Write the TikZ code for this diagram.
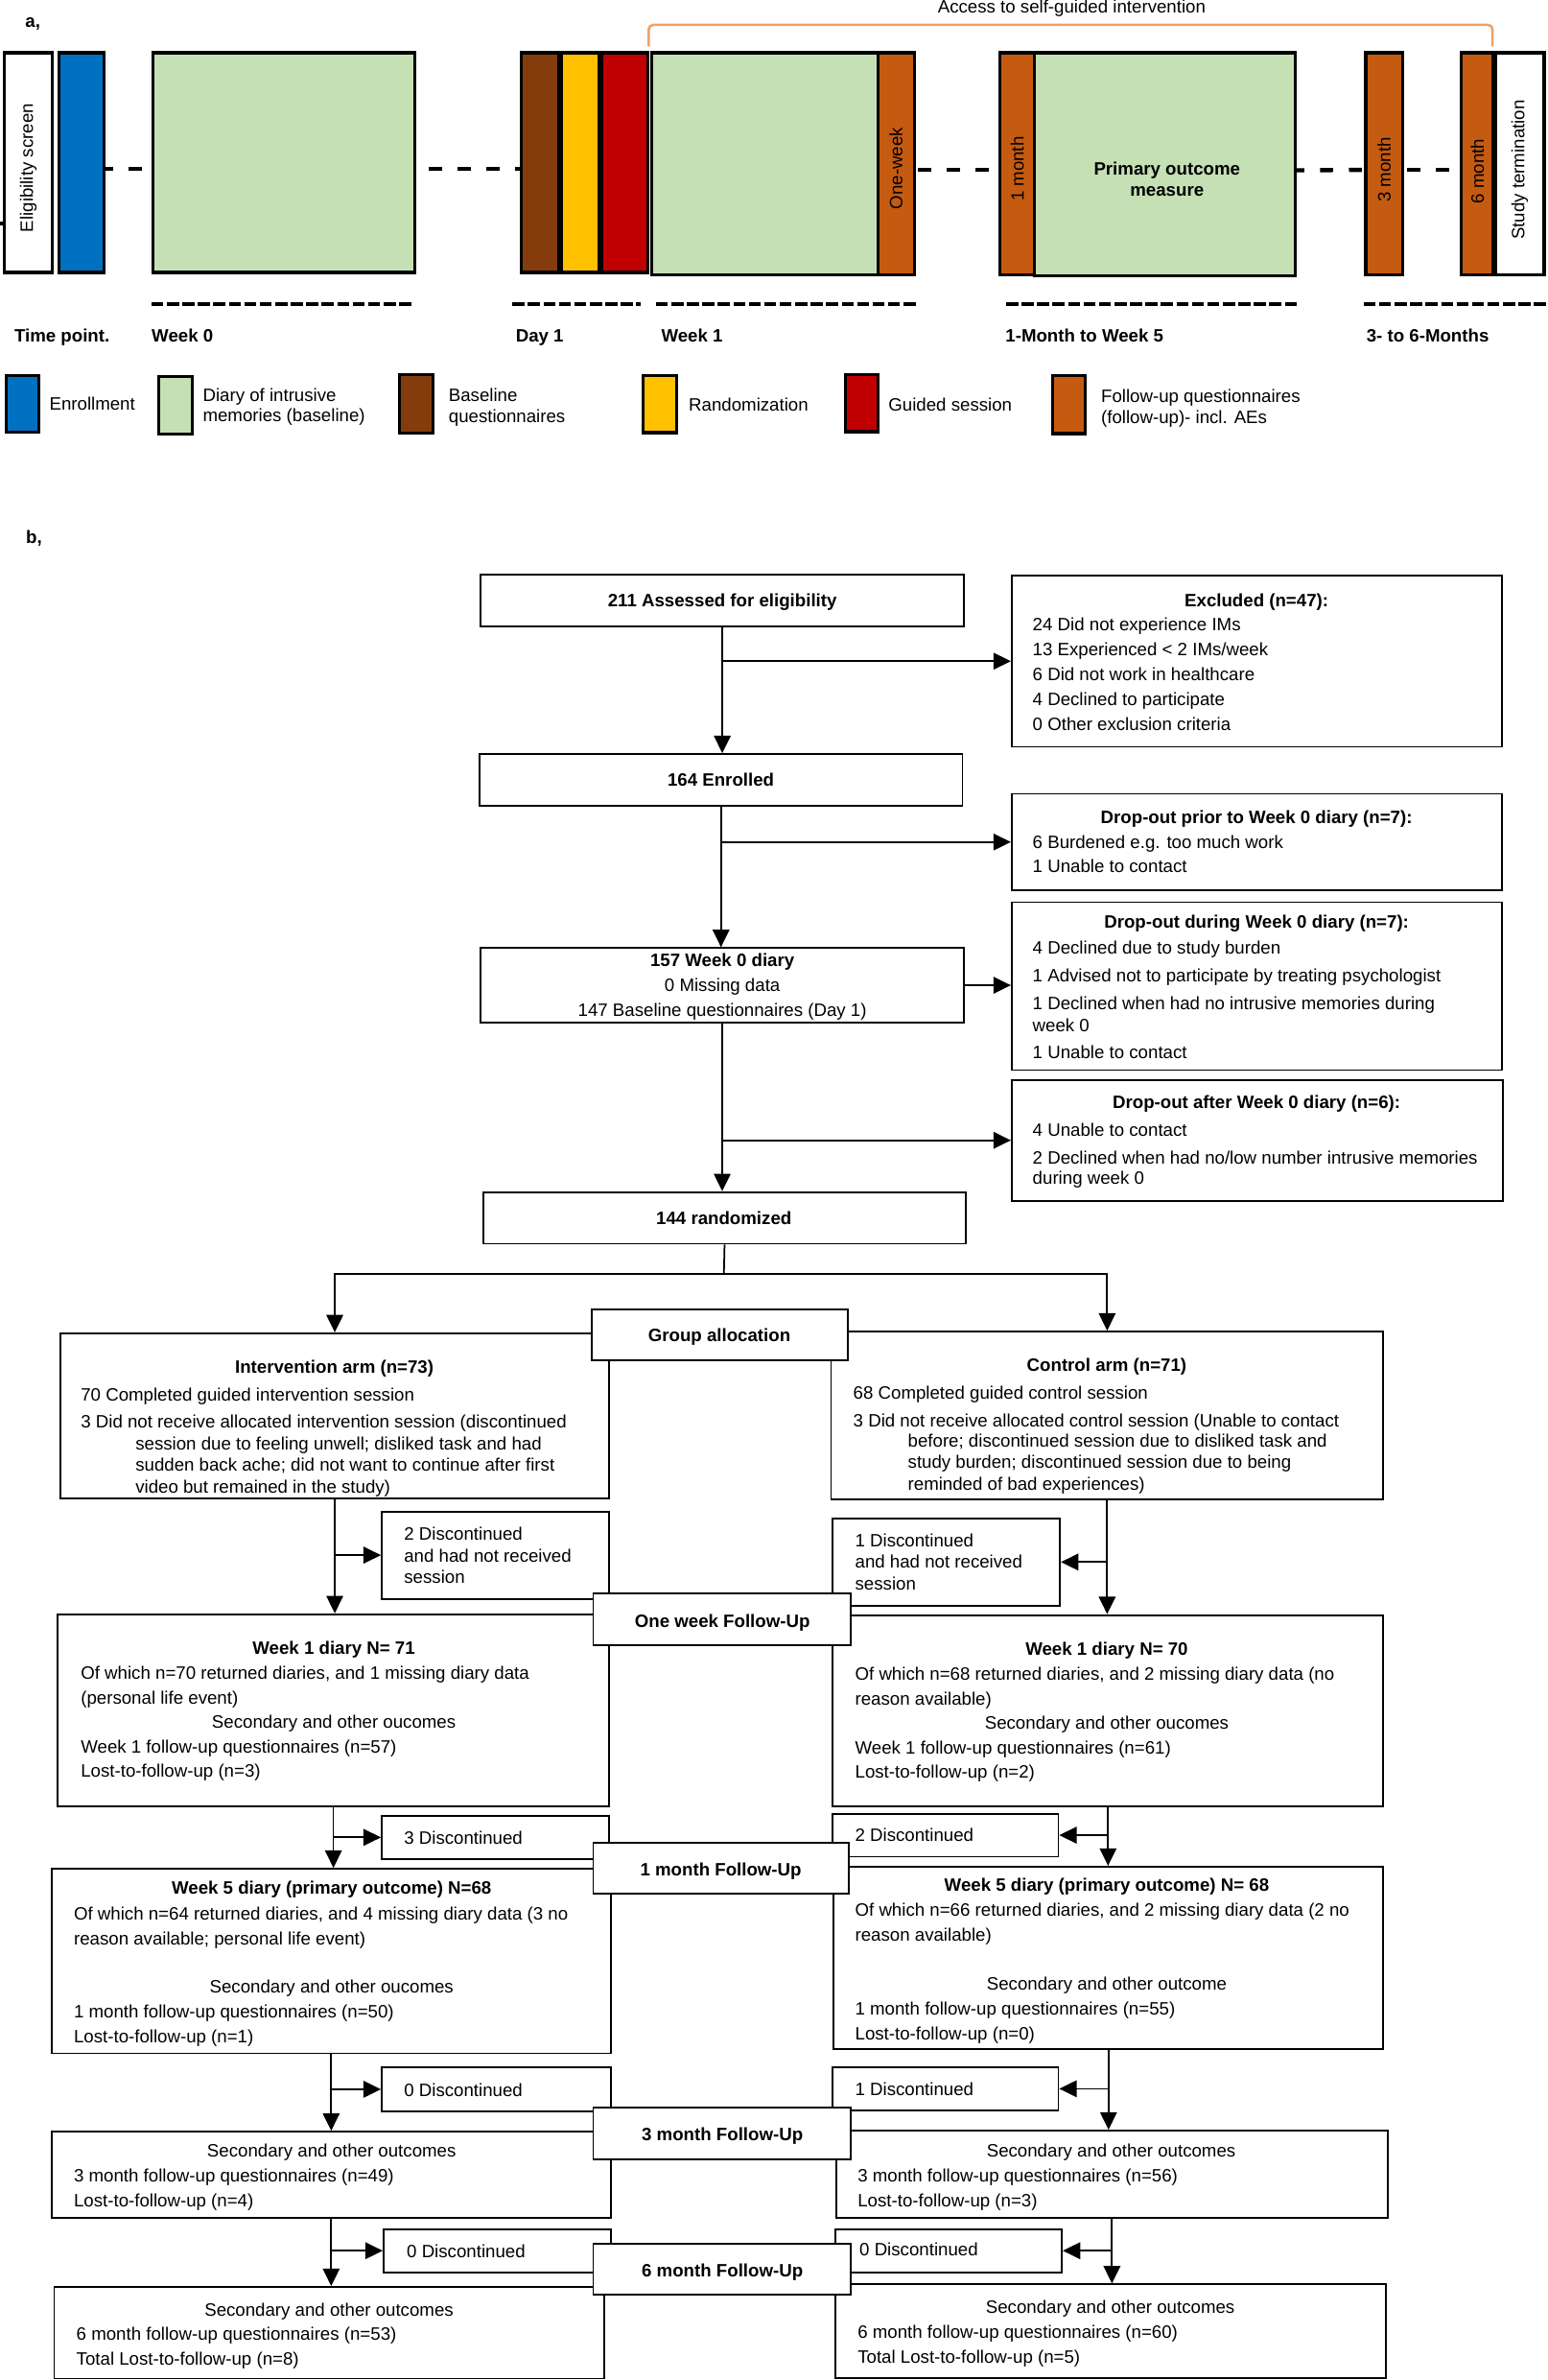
\documentclass[tikz,border=0pt]{standalone}
\usepackage{fontspec}
\setmainfont{Liberation Sans}
\usetikzlibrary{arrows.meta,fit}
\definecolor{cblue}{RGB}{0,112,192}
\definecolor{cgreen}{RGB}{197,224,180}
\definecolor{cbrown}{RGB}{132,60,12}
\definecolor{cyellow}{RGB}{255,192,0}
\definecolor{cred}{RGB}{192,0,0}
\definecolor{corange}{RGB}{197,90,17}
\definecolor{cbracket}{RGB}{240,160,100}
\newcommand\fsz{\fontsize{11.8}{14}\selectfont}
\newcommand\mybox[6][fbox]{\node[#1, fit={(#3,#4) (#5,#6)}] (#2) {};}
\newcommand\tleft[5][tx]{\node[#1, anchor=base west] (#2) at (#3,{#4+4}) {#5};}
\newcommand\tcent[5][tx]{\node[#1, anchor=base] (#2) at (#3,{#4+4}) {#5};}
\tikzset{
  abox/.style={draw, line width=2pt, inner sep=0pt},
  fbox/.style={draw, line width=1.2pt, inner sep=0pt, fill=white},
  tx/.style={inner sep=0pt, font=\fsz},
  txb/.style={inner sep=0pt, font=\fsz\bfseries},
  rot/.style={inner sep=0pt, rotate=90, font=\fontsize{11.8}{13}\selectfont},
  arr/.style={line width=1.1pt, -{Triangle[length=11.5pt,width=11pt]}},
  conn/.style={line width=1.1pt},
  tdash/.style={line width=2.8pt, dash pattern=on 8.5pt off 10.5pt},
  udash/.style={line width=2.5pt, dash pattern=on 7.9pt off 2.3pt},
}
\begin{document}
\begin{tikzpicture}[x=1pt,y=-1pt]
\fill[white] (0,0) rectangle (1020,1568);
\useasboundingbox (0,0) rectangle (1020,1568);

% ---------------- part a ----------------
\tleft[txb]{la}{16.5}{14}{a,}
\draw[cbracket, line width=1.6pt, rounded corners=3pt] (427.5,30.5) -- (427.5,16.4) -- (983.5,16.4) -- (983.5,30.5);
\tcent{acc}{706.2}{4.8}{Access to self-guided intervention}

\mybox[abox, fill=white]{elig}{2.6}{34.8}{34.7}{179.5}
\mybox[abox, fill=cblue]{enr}{39}{34.8}{68.4}{179.5}
\mybox[abox, fill=cgreen]{g0}{100.8}{34.8}{273.6}{179.5}
\mybox[abox, fill=cbrown]{bq}{343.7}{34.8}{368.5}{179.5}
\mybox[abox, fill=cyellow]{rz}{370}{34.8}{395}{179.5}
\mybox[abox, fill=cred]{gs}{396.6}{34.8}{427}{179.5}
\mybox[abox, fill=cgreen]{g1}{429.6}{34.8}{578.4}{181.2}
\mybox[abox, fill=corange]{f1}{578.4}{34.8}{602.4}{181}
\mybox[abox, fill=corange]{f2}{658.8}{34.8}{681.8}{181}
\mybox[abox, fill=cgreen]{g2}{681.8}{34.8}{853.4}{181.6}
\mybox[abox, fill=corange]{f3}{900}{34.8}{924.2}{181}
\mybox[abox, fill=corange]{f4}{963}{34.8}{984}{181}
\mybox[abox, fill=white]{st}{985.3}{34.8}{1017.5}{181}

\node[rot] (elig-t) at ([yshift=-3.5pt]elig.center) {Eligibility screen};
\node[rot] (f1-t) at ([yshift=-3pt]f1.center) {One-week};
\node[rot] (f2-t) at ([yshift=-3.5pt]f2.center) {1 month};
\node[rot] (f3-t) at ([yshift=-4pt]f3.center) {3 month};
\node[rot] (f4-t) at ([yshift=-5pt]f4.center) {6 month};
\node[rot] (st-t) at ([yshift=-4pt]st.center) {Study termination};
\node[txb, align=center] (po) at (769,118) {Primary outcome\\measure};

\draw[line width=2pt] (0,147.3) -- (2.6,147.3);
\draw[tdash, dash phase=3.5pt] ([yshift=-4pt]enr.east) -- ([yshift=-4pt]g0.west);
\draw[tdash, dash phase=11pt] ([yshift=-4pt]g0.east) -- ([yshift=-4pt]bq.west);
\draw[tdash, dash phase=17.4pt] ([yshift=-4pt]f1.east) -- ([yshift=-4pt]f2.west);
\draw[tdash, dash phase=3.5pt] ([yshift=-4pt]g2.east) -- ([yshift=-4pt]f3.west);
\draw[tdash, dash phase=17pt] ([yshift=-4pt]f3.east) -- ([yshift=-4pt]f4.west);

\draw[udash] (99.8,200.6) -- (271.6,200.6);
\draw[udash] (337.7,200.6) -- (422.3,200.6);
\draw[udash] (432.2,200.6) -- (604,200.6);
\draw[udash] (663,200.6) -- (856,200.6);
\draw[udash] (898.6,200.6) -- (1020,200.6);

\tleft[txb]{tp0}{9.3}{221}{Time point.}
\tleft[txb]{tp1}{99.8}{221}{Week 0}
\tleft[txb]{tp2}{339.7}{221}{Day 1}
\tleft[txb]{tp3}{435.6}{221}{Week 1}
\tleft[txb]{tp4}{662.4}{221}{1-Month to Week 5}
\tleft[txb]{tp5}{900.3}{221}{3- to 6-Months}

\mybox[abox, fill=cblue]{lb1}{4}{247.5}{25.8}{284.8}
\tleft{lt1}{32.4}{265.9}{Enrollment}
\mybox[abox, fill=cgreen]{lb2}{104.4}{248}{126.9}{286}
\tleft{lt2a}{133.5}{260.2}{Diary of intrusive}
\tleft{lt2b}{133.5}{273.9}{memories (baseline)}
\mybox[abox, fill=cbrown]{lb3}{263.4}{247}{285.2}{285.5}
\tleft{lt3a}{295.5}{260.8}{Baseline}
\tleft{lt3b}{295.5}{274.5}{questionnaires}
\mybox[abox, fill=cyellow]{lb4}{424}{247.5}{446}{285}
\tleft{lt4}{453.7}{266.5}{Randomization}
\mybox[abox, fill=cred]{lb5}{557}{247}{578.4}{284.4}
\tleft{lt5}{585.3}{266.5}{Guided session}
\mybox[abox, fill=corange]{lb6}{693.6}{247.5}{715}{285.7}
\tleft{lt6a}{725.4}{261.2}{Follow-up questionnaires}
\tleft{lt6b}{725.4}{274.9}{(follow-up)- incl. AEs}

% ---------------- part b ----------------
\tleft[txb]{lb}{17}{354}{b,}

\mybox{assess}{316.8}{378.5}{635.1}{412.5}
\tcent[txb]{assess-t}{476}{395.5}{211 Assessed for eligibility}
\mybox{excl}{666.7}{379.2}{989.5}{492}
\tcent[txb]{ex0}{828}{395.6}{Excluded (n=47):}
\tleft{ex1}{680.3}{411.6}{24 Did not experience IMs}
\tleft{ex2}{680.3}{428}{13 Experienced < 2 IMs/week}
\tleft{ex3}{680.3}{444.4}{6 Did not work in healthcare}
\tleft{ex4}{680.3}{460.7}{4 Declined to participate}
\tleft{ex5}{680.3}{477}{0 Other exclusion criteria}

\mybox{enrol}{316}{496.8}{634.2}{531}
\tcent[txb]{enrol-t}{475}{514}{164 Enrolled}
\mybox{prior}{666.7}{523}{989.5}{586.5}
\tcent[txb]{pr0}{828}{538.6}{Drop-out prior to Week 0 diary (n=7):}
\tleft{pr1}{680.3}{554.7}{6 Burdened e.g. too much work}
\tleft{pr2}{680.3}{571}{1 Unable to contact}

\mybox{wzero}{316.8}{624.6}{635}{673.6}
\tcent[txb]{wz1}{476}{633}{157 Week 0 diary}
\tcent{wz2}{476}{649.4}{0 Missing data}
\tcent{wz3}{476}{665.5}{147 Baseline questionnaires (Day 1)}
\mybox{during}{666.7}{594.4}{989.5}{705}
\tcent[txb]{du0}{828}{607.7}{Drop-out during Week 0 diary (n=7):}
\tleft{du1}{680.3}{624.6}{4 Declined due to study burden}
\tleft{du2}{680.3}{643}{1 Advised not to participate by treating psychologist}
\tleft{du3}{680.3}{661.3}{1 Declined when had no intrusive memories during}
\tleft{du4}{680.3}{675.4}{week 0}
\tleft{du5}{680.3}{693.7}{1 Unable to contact}

\mybox{after}{666.7}{711.5}{990.5}{791}
\tcent[txb]{af0}{828}{726.2}{Drop-out after Week 0 diary (n=6):}
\tleft{af1}{680.3}{744.5}{4 Unable to contact}
\tleft{af2}{680.3}{762.8}{2 Declined when had no/low number intrusive memories}
\tleft{af3}{680.3}{776}{during week 0}

\mybox{rand}{318.4}{785.4}{636.5}{819.4}
\tcent[txb]{rand-t}{477}{803}{144 randomized}

\draw[arr] (assess.south) -- (assess.south |- enrol.north);
\draw[arr] (assess.south |- excl.west) -- (excl.west);
\draw[arr] (enrol.south) -- (enrol.south |- wzero.north);
\draw[arr] (enrol.south |- prior.west) -- (prior.west);
\draw[arr] (wzero.east) -- (wzero.east -| during.west);
\draw[arr] (wzero.south) -- (wzero.south |- rand.north);
\draw[arr] (wzero.south |- after.west) -- (after.west);

% arms
\mybox{intv}{39.8}{878.4}{401.4}{987.2}
\tcent[txb]{in0}{220.3}{901}{Intervention arm (n=73)}
\tleft{in1}{53.1}{919}{70 Completed guided intervention session}
\tleft{in2}{53.1}{937}{3 Did not receive allocated intervention session (discontinued}
\tleft{in3}{89.1}{951.1}{session due to feeling unwell; disliked task and had}
\tleft{in4}{89.1}{965.3}{sudden back ache; did not want to continue after first}
\tleft{in5}{89.1}{980}{video but remained in the study)}

\mybox{ctrl}{547.6}{877.3}{911.5}{987.9}
\tcent[txb]{co0}{729.3}{899.2}{Control arm (n=71)}
\tleft{co1}{562.1}{917.5}{68 Completed guided control session}
\tleft{co2}{562.1}{936}{3 Did not receive allocated control session (Unable to contact}
\tleft{co3}{598.1}{949.5}{before; discontinued session due to disliked task and}
\tleft{co4}{598.1}{963.5}{study burden; discontinued session due to being}
\tleft{co5}{598.1}{977.7}{reminded of bad experiences)}

\coordinate (split) at (477,839.4);
\draw[conn] (rand.south) -- (split);
\draw[arr] (split) -| (intv.north);
\draw[arr] (split) -| (ctrl.north);

% one week
\mybox{dA}{251.6}{995.8}{401.4}{1053.3}
\tleft{dA1}{266.1}{1010.9}{2 Discontinued}
\tleft{dA2}{266.1}{1025.1}{and had not received}
\tleft{dA3}{266.1}{1039.1}{session}
\mybox{dB}{548.8}{1000.3}{698.5}{1057.9}
\tleft{dB1}{563.3}{1015}{1 Discontinued}
\tleft{dB2}{563.3}{1029.2}{and had not received}
\tleft{dB3}{563.3}{1043.6}{session}

\mybox{wkL}{38}{1063.5}{401.4}{1190}
\tcent[txb]{wl0}{220}{1086}{Week 1 diary N= 71}
\tleft{wl1}{53.1}{1102.6}{Of which n=70 returned diaries, and 1 missing diary data}
\tleft{wl2}{53.1}{1118.8}{(personal life event)}
\tcent{wl3}{220}{1134.6}{Secondary and other oucomes}
\tleft{wl4}{53.1}{1150.9}{Week 1 follow-up questionnaires (n=57)}
\tleft{wl5}{53.1}{1166.9}{Lost-to-follow-up (n=3)}

\mybox{wkR}{548.8}{1064}{911.5}{1190}
\tcent[txb]{wr0}{729.3}{1086.5}{Week 1 diary N= 70}
\tleft{wr1}{563.3}{1103}{Of which n=68 returned diaries, and 2 missing diary data (no}
\tleft{wr2}{563.3}{1119.5}{reason available)}
\tcent{wr3}{729.3}{1135.3}{Secondary and other oucomes}
\tleft{wr4}{563.3}{1151.5}{Week 1 follow-up questionnaires (n=61)}
\tleft{wr5}{563.3}{1167.4}{Lost-to-follow-up (n=2)}

\draw[arr] (intv.south) -- (intv.south |- wkL.north);
\draw[arr] (intv.south |- dA.west) -- (dA.west);
\draw[arr] (ctrl.south) -- (ctrl.south |- wkR.north);
\draw[arr] (ctrl.south |- dB.east) -- (dB.east);

% one month
\mybox{dC}{251.6}{1196.1}{401.4}{1224.9}
\tleft{dC1}{266.1}{1211}{3 Discontinued}
\mybox{dD}{548.8}{1194.9}{697.4}{1223.2}
\tleft{dD1}{563.3}{1209.4}{2 Discontinued}

\mybox{w5L}{34}{1231.2}{402.5}{1352.8}
\tcent[txb]{v0}{218.5}{1243.8}{Week 5 diary (primary outcome) N=68}
\tleft{v1}{48.5}{1260.8}{Of which n=64 returned diaries, and 4 missing diary data (3 no}
\tleft{v2}{48.5}{1277.2}{reason available; personal life event)}
\tcent{v3}{218.5}{1309.2}{Secondary and other oucomes}
\tleft{v4}{48.5}{1325.7}{1 month follow-up questionnaires (n=50)}
\tleft{v5}{48.5}{1341.9}{Lost-to-follow-up (n=1)}

\mybox{w5R}{549.4}{1229.8}{911.5}{1349.9}
\tcent[txb]{u0}{729.3}{1241.9}{Week 5 diary (primary outcome) N= 68}
\tleft{u1}{563.3}{1258.4}{Of which n=66 returned diaries, and 2 missing diary data (2 no}
\tleft{u2}{563.3}{1274.6}{reason available)}
\tcent{u3}{729.3}{1306.8}{Secondary and other outcome}
\tleft{u4}{563.3}{1323.8}{1 month follow-up questionnaires (n=55)}
\tleft{u5}{563.3}{1340}{Lost-to-follow-up (n=0)}

\draw[arr] (wkL.south) -- (wkL.south |- w5L.north);
\draw[arr] (wkL.south |- dC.west) -- (dC.west);
\draw[arr] (wkR.south) -- (wkR.south |- w5R.north);
\draw[arr] (wkR.south |- dD.east) -- (dD.east);

% three months
\mybox{dE}{251.6}{1362}{402.5}{1390.9}
\tleft{dE1}{266.1}{1377.1}{0 Discontinued}
\mybox{dF}{548.8}{1361.8}{697.4}{1390.4}
\tleft{dF1}{563.3}{1376.3}{1 Discontinued}

\mybox{m3L}{34}{1404.4}{402.5}{1461.1}
\tcent{m3L0}{218.5}{1417}{Secondary and other outcomes}
\tleft{m3L1}{48.5}{1433.5}{3 month follow-up questionnaires (n=49)}
\tleft{m3L2}{48.5}{1449.7}{Lost-to-follow-up (n=4)}
\mybox{m3R}{551}{1403.7}{914.4}{1461.1}
\tcent{m3R0}{732.2}{1417}{Secondary and other outcomes}
\tleft{m3R1}{565}{1433.5}{3 month follow-up questionnaires (n=56)}
\tleft{m3R2}{565}{1449.7}{Lost-to-follow-up (n=3)}

\draw[arr] (w5L.south) -- (w5L.south |- m3L.north);
\draw[arr] (w5L.south |- dE.west) -- (dE.west);
\draw[arr] (w5R.south) -- (w5R.south |- m3R.north);
\draw[arr] (w5R.south |- dF.east) -- (dF.east);

% six months
\mybox{dG}{252.8}{1468.6}{402.5}{1497}
\tleft{dG1}{267.9}{1483.2}{0 Discontinued}
\mybox{dH}{550.5}{1468.6}{699.7}{1497}
\tleft{dH1}{566.2}{1482.4}{0 Discontinued}

\mybox{m6L}{35.7}{1506.7}{397.9}{1567}
\tcent{m6L0}{216.8}{1521.9}{Secondary and other outcomes}
\tleft{m6L1}{50.2}{1537.7}{6 month follow-up questionnaires (n=53)}
\tleft{m6L2}{50.2}{1553.9}{Total Lost-to-follow-up (n=8)}
\mybox{m6R}{550.5}{1505}{913.3}{1566.5}
\tcent{m6R0}{731.6}{1520}{Secondary and other outcomes}
\tleft{m6R1}{565}{1536.5}{6 month follow-up questionnaires (n=60)}
\tleft{m6R2}{565}{1552.7}{Total Lost-to-follow-up (n=5)}

\draw[arr] (m3L.south) -- (m3L.south |- m6L.north);
\draw[arr] (m3L.south |- dG.west) -- (dG.west);
\draw[arr] (m3R.south) -- (m3R.south |- m6R.north);
\draw[arr] (m3R.south |- dH.east) -- (dH.east);

% stage boxes on top
\mybox{grp}{389.8}{862.4}{558.5}{896}
\tcent[txb]{grp-t}{474}{880}{Group allocation}
\mybox{fu1}{390.9}{1050}{560.4}{1083.8}
\tcent[txb]{fu1-t}{476}{1068}{One week Follow-Up}
\mybox{fu2}{390.9}{1214}{559.2}{1247.5}
\tcent[txb]{fu2-t}{475}{1231.7}{1 month Follow-Up}
\mybox{fu3}{390.9}{1388.4}{560.4}{1422.6}
\tcent[txb]{fu3-t}{476}{1406.1}{3 month Follow-Up}
\mybox{fu4}{390.9}{1478.3}{560.4}{1511.5}
\tcent[txb]{fu4-t}{476}{1495.8}{6 month Follow-Up}
\end{tikzpicture}
\end{document}
